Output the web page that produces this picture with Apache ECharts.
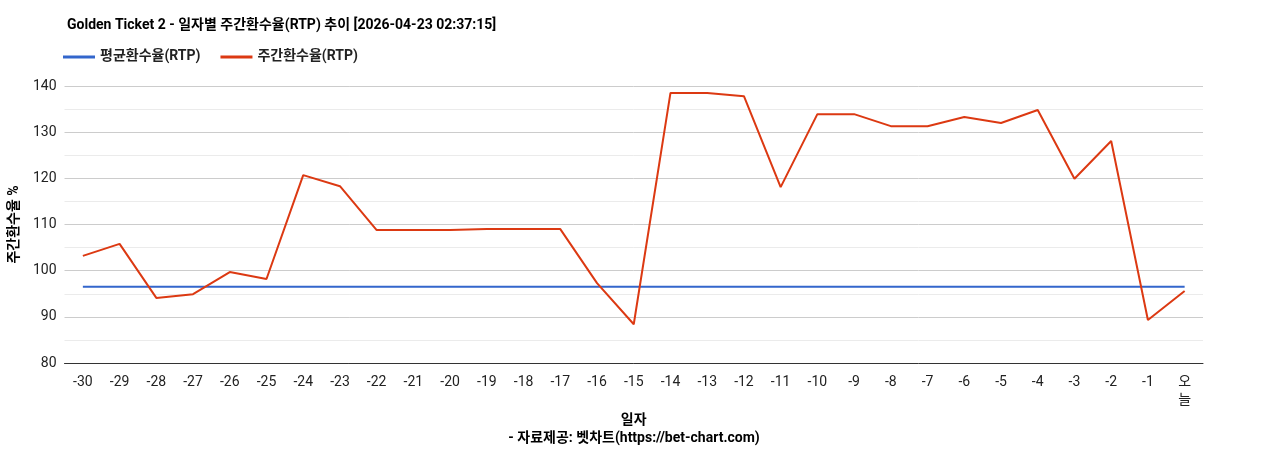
<!DOCTYPE html>
<html><head><meta charset="utf-8">
<script src="https://cdn.jsdelivr.net/npm/echarts@6/dist/echarts.min.js"></script>
<style>html,body{margin:0;padding:0;background:#fff}#c{width:1268px;height:450px}</style>
</head><body><div id="c"></div>
<script>
const categories=['-30','-29','-28','-27','-26','-25','-24','-23','-22','-21','-20','-19','-18','-17','-16','-15','-14','-13','-12','-11','-10','-9','-8','-7','-6','-5','-4','-3','-2','-1','오\n늘'];
const weekly=[103.2,105.8,94.1,94.9,99.7,98.2,120.7,118.3,108.8,108.8,108.8,109.0,109.0,109.0,97.3,88.4,138.5,138.5,137.8,118.1,133.9,133.9,131.3,131.3,133.3,132.0,134.8,119.9,128.1,89.3,95.6];
const avgValue=96.5;
const average=categories.map(()=>avgValue);
const ff='Roboto, "Noto Sans CJK KR", sans-serif';
const chart=echarts.init(document.getElementById('c'));
chart.setOption({
  animation:false,
  textStyle:{fontFamily:ff},
  title:[{text:'Golden Ticket 2 - 일자별 주간환수율(RTP) 추이 [2026-04-23 02:37:15]',left:62,top:14,textStyle:{fontSize:14,fontWeight:'bold',color:'#000',fontFamily:ff}},
    {text:'- 자료제공: 벳차트(https://bet-chart.com)',left:'center',top:427,textStyle:{fontSize:14,fontWeight:'bold',color:'#000',fontFamily:ff}}],
  legend:{left:58,top:45,itemWidth:32,itemHeight:3,itemGap:20,icon:'rect',textStyle:{fontSize:14,fontWeight:'bold',color:'#222'},data:['평균환수율(RTP)','주간환수율(RTP)']},
  grid:{left:64,right:65,top:86,bottom:87},
  xAxis:{type:'category',data:categories,boundaryGap:true,name:'일자',nameLocation:'middle',nameGap:45,
    nameTextStyle:{fontSize:14,fontWeight:'bold',color:'#000'},
    axisLine:{lineStyle:{color:'#333'}},axisTick:{show:false},
    axisLabel:{color:'#222',fontSize:14,interval:0,margin:10,lineHeight:18}},
  yAxis:{type:'value',min:80,max:140,interval:5,name:'주간환수율 %',nameLocation:'middle',nameGap:32,
    nameTextStyle:{fontSize:14,fontWeight:'bold',color:'#000'},
    axisLabel:{color:'#222',fontSize:14,formatter:v=>v%10===0?v:''},
    axisLine:{show:false},axisTick:{show:false},
    splitLine:{lineStyle:{color:['#ccc','#ebebeb']}}},
  series:[
    {name:'평균환수율(RTP)',type:'line',data:average,symbol:'none',lineStyle:{color:'#3366cc',width:2},itemStyle:{color:'#3366cc'}},
    {name:'주간환수율(RTP)',type:'line',data:weekly,symbol:'none',lineStyle:{color:'#dc3912',width:2},itemStyle:{color:'#dc3912'}}
  ]
});
</script></body></html>
